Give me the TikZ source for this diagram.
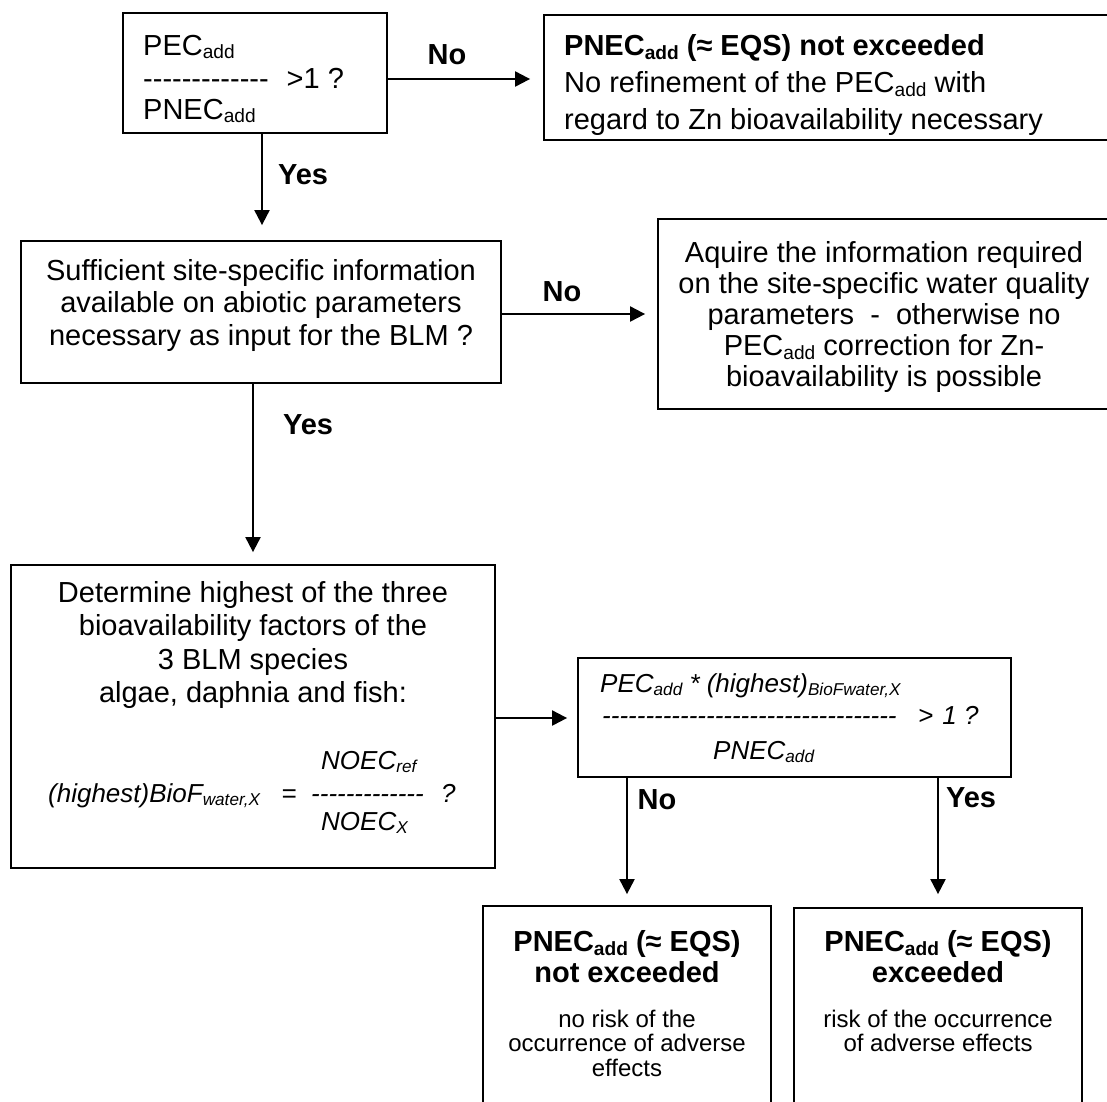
\documentclass[tikz,border=0pt]{standalone}
\usepackage{fontspec}
\setmainfont{Liberation Sans}
\usepackage{graphicx}
\usetikzlibrary{arrows.meta}
\newcommand{\dn}[1]{\raisebox{-0.13em}{\scalebox{0.66}{#1}}}
\newcommand{\hy}{-\kern0pt}
\begin{document}
\begin{tikzpicture}[x=1pt,y=-1pt,
  box/.style={draw, line width=1.8pt, inner sep=0pt, rectangle},
  arr/.style={line width=2pt, -{Triangle[length=15pt,width=15pt]}},
  txt/.style={inner sep=0pt, font=\fontsize{29}{32.5}\selectfont},
  ftxt/.style={inner sep=0pt, font=\fontsize{26}{30}\selectfont\itshape},
  btxt/.style={inner sep=0pt, font=\fontsize{29}{31}\selectfont\bfseries},
  stxt/.style={inner sep=0pt, font=\fontsize{24}{24.5}\selectfont},
  lbl/.style={inner sep=0pt, font=\fontsize{29}{32}\selectfont\bfseries}]
\useasboundingbox (0,0) rectangle (1107,1101);
\clip (0,0) rectangle (1107,1101);
\fill[white] (0,0) rectangle (1107,1101);

% boxes
\node[box, minimum width=264pt, minimum height=120pt] (b1) at (255,73) {};
\node[box, minimum width=566pt, minimum height=125pt] (b2) at (827,77.5) {};
\node[box, minimum width=480pt, minimum height=142pt] (b3) at (261,312) {};
\node[box, minimum width=452pt, minimum height=190pt] (b4) at (884,314) {};
\node[box, minimum width=484pt, minimum height=303pt] (b5) at (253,716.5) {};
\node[box, minimum width=433pt, minimum height=119pt] (b6) at (794.5,717.5) {};
\node[box, minimum width=288pt, minimum height=204pt] (b7) at (627,1008) {};
\node[box, minimum width=288pt, minimum height=202pt] (b8) at (938,1009) {};

% box 1 text
\node[txt, anchor=base west] (t1a) at (143,55) {PEC\dn{add}};
\node[txt, anchor=base west] (t1b) at (143,88) {\hy\hy\hy\hy\hy\hy\hy\hy\hy\hy\hy\hy\hy\hspace{18pt}>1 ?};
\node[txt, anchor=base west] (t1c) at (143,119) {PNEC\dn{add}};

% box 2 text
\node[txt, anchor=west, align=left, font=\fontsize{29}{37}\selectfont] (t2) at (564,85)
  {\textbf{PNEC\dn{add} (≈ EQS) not exceeded}\\No refinement of the PEC\dn{add} with\\regard to Zn bioavailability necessary};

% box 3 text
\node[txt, align=center] (t3) at (261,305)
  {Sufficient site-specific information\\available on abiotic parameters\\necessary as input for the BLM ?};

% box 4 text
\node[txt, align=center, font=\fontsize{29}{31}\selectfont] (t4) at (884,317)
  {Aquire the information required\\on the site-specific water quality\\parameters\ \ -\ \ otherwise no\\PEC\dn{add} correction for Zn-\\bioavailability is possible};

% box 5 text
\node[txt, align=center, font=\fontsize{29}{33.3}\selectfont] (t5) at (253,645)
  {Determine highest of the three\\bioavailability factors of the\\3 BLM species\\algae, daphnia and fish:};
\node[ftxt, anchor=base west] (f1) at (48,802) {(highest)BioF\dn{water,X}};
\node[ftxt, anchor=base] (f2) at (289,802) {=};
\node[ftxt, anchor=base west] (f3) at (311,802) {\hy\hy\hy\hy\hy\hy\hy\hy\hy\hy\hy\hy\hy};
\node[ftxt, anchor=base west] (f4) at (441,802) {?};
\node[ftxt, anchor=base west] (f5) at (321,769) {NOEC\dn{ref}};
\node[ftxt, anchor=base west] (f6) at (321,830) {NOEC\dn{X}};

% box 6 text
\node[ftxt, anchor=base west] (g1) at (600,692) {PEC\dn{add} * (highest)\dn{BioFwater,X}};
\node[ftxt, anchor=base west] (g2) at (602,724) {\hy\hy\hy\hy\hy\hy\hy\hy\hy\hy\hy\hy\hy\hy\hy\hy\hy\hy\hy\hy\hy\hy\hy\hy\hy\hy\hy\hy\hy\hy\hy\hy\hy\hy};
\node[ftxt, anchor=base west] (g3) at (918,724) {>\hspace{9pt}1 ?};
\node[ftxt, anchor=base west] (g4) at (713,759) {PNEC\dn{add}};

% box 7 text
\node[btxt, align=center] (h7) at (627,957) {PNEC\dn{add} (≈ EQS)\\not exceeded};
\node[stxt, align=center] (s7) at (627,1043) {no risk of the\\occurrence of adverse\\effects};

% box 8 text
\node[btxt, align=center] (h8) at (938,957) {PNEC\dn{add} (≈ EQS)\\exceeded};
\node[stxt, align=center] (s8) at (938,1031) {risk of the occurrence\\of adverse effects};

% connectors
\draw[arr, shorten >=15pt] ([xshift=7pt]b1.south) -- ([xshift=7pt]b1.south |- b3.north);
\draw[arr, shorten >=13pt] ([yshift=-6pt]b1.east) -- ([yshift=-6pt]b1.east -| b2.west);
\draw[arr, shorten >=12pt] ([yshift=-2pt]b3.east) -- ([yshift=-2pt]b3.east -| b4.west);
\draw[arr, shorten >=12pt] ([xshift=-8pt]b3.south) -- (b5.north);
\draw[arr, shorten >=10pt] ([yshift=-1.5pt]b5.east) -- ([yshift=-1.5pt]b5.east -| b6.west);
\draw[arr, shorten >=11pt] (b7.north |- b6.south) -- (b7.north);
\draw[arr, shorten >=13pt] (b8.north |- b6.south) -- (b8.north);

% labels
\node[lbl] (l1) at (447,55) {No};
\node[lbl] (l2) at (303,175) {Yes};
\node[lbl] (l3) at (562,292) {No};
\node[lbl] (l4) at (308,425) {Yes};
\node[lbl] (l5) at (657,800) {No};
\node[lbl] (l6) at (971,798) {Yes};
\end{tikzpicture}
\end{document}
